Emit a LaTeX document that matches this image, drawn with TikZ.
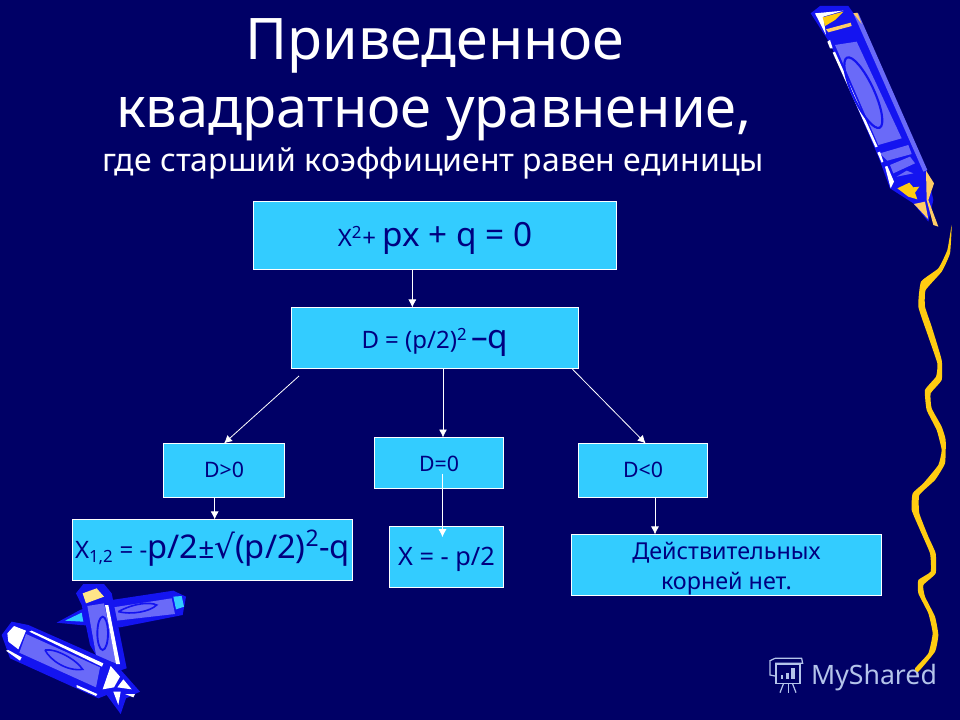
\documentclass[tikz,border=0pt]{standalone}
\usepackage{fontspec}
\setmainfont{Noto Sans}
\newfontfamily\symfont{DejaVu Sans}
\usetikzlibrary{positioning, arrows.meta}
\definecolor{bgblue}{HTML}{000066}
\definecolor{boxblue}{HTML}{33CCFF}
\definecolor{txtblue}{HTML}{000080}
\definecolor{penblue}{HTML}{1414F0}
\definecolor{penlight}{HTML}{6A6AF8}
\definecolor{penyellow}{HTML}{FFCC11}
\definecolor{penorange}{HTML}{FFCC66}
\definecolor{logoblue}{HTML}{B4C4EA}
\tikzset{
  fbox/.style={draw=white, fill=boxblue, text=txtblue, line width=0.75pt, inner sep=0pt, outer sep=0pt, align=center},
  lift/.style={text height=#1, text depth=0pt},
  conn/.style={-{Latex[length=6pt,width=6pt]}, white, line width=0.6pt},
  titletxt/.style={text=white, inner sep=0pt, anchor=base},
  px/.style={x=0.25pt, y=-0.25pt}
}
\begin{document}
\begin{tikzpicture}[x=0.75pt, y=-0.75pt]
  \fill[bgblue] (0,0) rectangle (960,720);

  \node[titletxt, font=\fontsize{43}{48}\selectfont] (title1) at (435,60) {Приведенное};
  \node[titletxt, font=\fontsize{42}{48}\selectfont] (title2) at (434,128) {квадратное уравнение,};
  \node[titletxt, font=\fontsize{24}{28}\selectfont] (title3) at (433,172) {где старший коэффициент равен единицы};

  \node[fbox, lift=17.2pt, minimum width=272.25pt, minimum height=51pt] (eq) at (435,235.5)
    {\fontsize{18}{18}\selectfont X\textsuperscript{2}+ \fontsize{25}{24}\selectfont px + q = 0};
  \node[fbox, lift=15.75pt, below=28.5pt of eq, minimum width=215.25pt, minimum height=45.75pt] (dform)
    {\fontsize{18}{18}\selectfont D = (p/2)\textsuperscript{2}\,\fontsize{25}{24}\selectfont –q};
  \node[fbox, lift=12.75pt, below=51.75pt of dform, xshift=3pt, minimum width=96.75pt, minimum height=38.25pt,
    font=\fontsize{16}{18}\selectfont] (dzero) {D=0};
  \node[fbox, lift=10.5pt, left=67.5pt of dzero, yshift=-5.6pt, minimum width=90.75pt, minimum height=40.5pt,
    font=\fontsize{16}{18}\selectfont] (dpos) {D>0};
  \node[fbox, lift=10.5pt, right=56.25pt of dzero, yshift=-5.6pt, minimum width=96.75pt, minimum height=40.5pt,
    font=\fontsize{16}{18}\selectfont] (dneg) {D<0};
  \node[fbox, lift=12.75pt, below=16.5pt of dpos, xshift=-8.6pt, minimum width=210pt, minimum height=45.75pt] (xroots)
    {\fontsize{18}{18}\selectfont X\textsubscript{1,2} = -\fontsize{24.5}{24}\selectfont p/2{\fontsize{21}{18}\selectfont ±}{\symfont√}(p/2)\textsuperscript{2}-q};
  \node[fbox, lift=12.75pt, below=28.5pt of dzero, xshift=5.6pt, minimum width=85.5pt, minimum height=45.75pt,
    font=\fontsize{19}{20}\selectfont] (xone) {X = - p/2};
  \node[fbox, below=27.75pt of dneg, xshift=62.6pt, minimum width=232.5pt, minimum height=45.75pt,
    font=\fontsize{17.5}{22.5}\selectfont] (none) {\rule{0pt}{19pt}Действительных\\корней нет.};

  \coordinate (dstart) at (299,376);
  \draw[conn] ([xshift=-17pt]eq.south) -- ([xshift=-17pt]eq.south |- dform.north);
  \draw[conn] (dstart) -- (dpos.north);
  \draw[conn] ([xshift=6pt]dform.south) -- ([xshift=6pt]dform.south |- dzero.north);
  \draw[conn] ([xshift=-5pt]dform.south east) -- ([xshift=2pt]dneg.north);
  \draw[conn] ([xshift=-7pt]dpos.south) -- ([xshift=-7pt]dpos.south |- xroots.north);
  \draw[conn] ([xshift=2.6pt,yshift=-8pt]dzero.center) -- ([xshift=2.6pt,yshift=-8pt]dzero.center |- xone.north);
  \draw[conn] ([xshift=9pt]dneg.south) -- ([xshift=9pt]dneg.south |- none.north);

  \node[text=logoblue, inner sep=0pt, font=\fontsize{20}{24}\selectfont] (logotxt) at (874,678) {MyShared};
  \begin{scope}[shift={(750,640)}, px, logoblue, line width=0.9pt]
    \draw (75,55) -- (155,55) -- (158,70) -- (75,70);
    \draw (75,55) -- (60,62) -- (60,105) -- (75,108);
    \draw (78,72) rectangle (150,130);
    \fill (92,106) rectangle (100,118);
    \fill (108,98) rectangle (116,118);
    \fill (124,85) rectangle (134,118);
    \draw (100,132) -- (90,158);
    \draw (115,132) -- (115,158);
    \draw (128,132) -- (138,158);
  \end{scope}

  \begin{scope}[shift={(800,0)}, px]
    \fill[penblue] (32,40) -- (60,18) -- (145,18) -- (175,60) -- (380,510) -- (400,600) -- (385,665)
      -- (340,610) -- (270,565) -- (235,470) -- (90,130) -- cycle;
    \fill[penlight] (160,40) -- (175,40) -- (382,510) -- (370,515) -- cycle;
    \fill[penlight] (105,135) -- (170,125) -- (305,415) -- (235,435) -- cycle;
    \fill[penlight] (240,460) -- (325,435) -- (335,462) -- (262,482) -- cycle;
    \fill[penlight] (270,495) -- (330,470) -- (345,490) -- (280,520) -- cycle;
    \fill[penlight] (290,530) -- (320,512) -- (340,520) -- cycle;
    \fill[white] (45,40) -- (130,32) -- (70,50) -- (78,105) -- cycle;
    \fill[white] (82,125) -- (90,120) -- (98,145) -- (90,145) -- cycle;
    \fill[white] (98,158) -- (105,155) -- (233,440) -- (226,442) -- cycle;
    \fill[white] (232,458) -- (240,455) -- (250,485) -- (245,488) -- cycle;
    \fill[white] (255,500) -- (262,498) -- (282,545) -- (272,565) -- cycle;
    \fill[penyellow] (68,52) -- (130,35) -- (105,60) -- (75,78) -- cycle;
    \fill[penorange] (78,88) -- (152,68) -- (155,78) -- (85,97) -- cycle;
    \fill[penorange] (160,40) -- (172,38) -- (185,72) -- cycle;
    \fill[penyellow] (292,565) -- (328,548) -- (340,562) -- (358,560) -- (345,578) -- (352,598) -- (325,590) -- cycle;
    \fill[penorange] (342,612) -- (375,605) -- (385,658) -- cycle;
    \fill[penorange] (378,512) -- (402,550) -- (385,600) -- (415,680) -- (400,675) -- (380,600) -- cycle;
    \draw[penblue, line width=1.6pt, rotate around={25:(190,278)}] (190,278) ellipse (8pt and 29pt);
  \end{scope}

  \begin{scope}[shift={(860,220)}, px]
    \fill[penyellow] plot[smooth cycle, tension=0.25] coordinates {(275,15) (270,100) (245,155) (197,210) (195,260) (215,320) (245,420)
      (245,480) (212,520) (215,565) (245,620) (257,660) (255,730) (225,780) (178,825)
      (178,880) (205,950) (227,1000) (227,1060) (190,1095) (195,1130) (225,1190)
      (235,1245) (225,1295) (175,1355) (165,1345) (205,1300) (218,1240) (205,1180)
      (175,1120) (175,1080) (212,1055) (210,1000) (180,930) (155,870) (158,820)
      (190,790) (235,735) (245,690) (230,630) (200,570) (195,510) (228,470) (232,430)
      (205,350) (175,260) (183,185) (235,145) (262,90)};
  \end{scope}

  \begin{scope}[shift={(0,570)}, px]
    \fill[penblue] (170,158) -- (240,120) -- (335,90) -- (520,62) -- (558,80) -- (548,135) -- (360,172) -- (240,165) -- cycle;
    \fill[penlight] (340,112) -- (515,85) -- (525,132) -- (350,152) -- cycle;
    \fill[boxblue] (520,80) -- (545,78) -- (552,110) -- (528,118) -- cycle;
    \fill[boxblue] (195,152) -- (245,128) -- (250,155) -- cycle;
    \draw[penblue, line width=1.2pt] (355,125) .. controls (400,100) and (450,95) .. (470,105)
      .. controls (450,125) and (395,135) .. (355,125);
    \fill[penblue] (228,70) -- (250,42) -- (312,42) -- (335,70) -- (380,295) -- (350,305) -- (300,275) -- (270,225) -- (245,105) -- cycle;
    \fill[penyellow!50!white] (248,70) -- (290,55) -- (312,80) -- (258,100) -- cycle;
    \fill[penlight] (262,108) -- (312,100) -- (350,280) -- (290,265) -- cycle;
    \fill[white] (315,105) -- (325,105) -- (360,282) -- (348,282) -- cycle;
    \draw[penblue, line width=1.4pt] (308,190) ellipse (4pt and 12.5pt);
    \fill[penblue] (5,195) -- (35,155) -- (85,165) -- (345,280) -- (420,365) -- (378,385) -- (362,432) -- (320,375)
      -- (295,385) -- (30,265) -- cycle;
    \fill[white] (22,190) -- (42,168) -- (78,182) -- (55,238) -- (25,215) -- cycle;
    \fill[white] (18,242) -- (25,240) -- (65,262) -- (60,272) -- cycle;
    \fill[penlight] (78,192) -- (300,292) -- (288,352) -- (58,248) -- cycle;
    \fill[white] (88,185) -- (95,182) -- (310,280) -- (306,290) -- cycle;
    \fill[white] (332,288) -- (360,320) -- (342,352) -- (308,358) -- cycle;
    \fill[white] (352,352) -- (370,328) -- (395,358) -- cycle;
    \fill[white] (340,365) -- (362,365) -- (355,405) -- cycle;
    \fill[white] (375,372) -- (405,372) -- (400,382) -- cycle;
    \fill[white] (230,345) -- (292,372) -- (288,378) -- (230,352) -- cycle;
    \draw[penblue, line width=1.2pt] (135,240) .. controls (170,235) and (230,270) .. (248,298)
      .. controls (200,305) and (150,270) .. (135,240);
  \end{scope}
\end{tikzpicture}
\end{document}
